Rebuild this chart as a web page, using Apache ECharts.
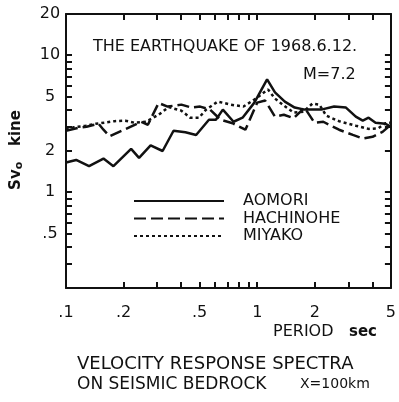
<!DOCTYPE html>
<html>
<head>
<meta charset="utf-8">
<script src="https://cdn.jsdelivr.net/npm/echarts@6/dist/echarts.min.js"></script>
<style>
html,body{margin:0;padding:0;background:#fff;}
#chart{width:399px;height:402px;}
</style>
</head>
<body>
<div id="chart"></div>
<script>
// ---- data ----
const seriesNames = ['AOMORI', 'HACHINOHE', 'MIYAKO'];

const aomoriPeriod = [0.1, 0.113, 0.132, 0.157, 0.177, 0.219, 0.241, 0.277, 0.32, 0.365, 0.421, 0.479, 0.559, 0.608, 0.661, 0.752, 0.838, 0.966, 1.126, 1.238, 1.394, 1.57, 1.767, 2.162, 2.523, 2.91, 3.276, 3.563, 3.822, 4.155, 4.68, 5.0];
const aomoriSv = [1.65, 1.72, 1.55, 1.76, 1.55, 2.07, 1.78, 2.2, 2.0, 2.81, 2.74, 2.62, 3.38, 3.38, 4.01, 3.27, 3.5, 4.51, 6.66, 5.35, 4.59, 4.15, 4.01, 4.01, 4.22, 4.15, 3.56, 3.33, 3.5, 3.22, 3.16, 3.01];

const hachinohePeriod = [0.1, 0.117, 0.128, 0.148, 0.157, 0.169, 0.206, 0.247, 0.268, 0.305, 0.34, 0.401, 0.452, 0.503, 0.566, 0.644, 0.743, 0.867, 1.0, 1.1, 1.238, 1.377, 1.551, 1.767, 1.99, 2.215, 2.677, 3.162, 3.563, 4.01, 4.52, 5.0];
const hachinoheSv = [2.81, 2.96, 3.01, 3.16, 2.86, 2.56, 2.9, 3.27, 3.11, 4.48, 4.22, 4.36, 4.15, 4.22, 4.01, 3.38, 3.19, 2.86, 4.51, 4.67, 3.56, 3.68, 3.47, 4.15, 3.22, 3.27, 2.86, 2.62, 2.47, 2.54, 2.76, 3.11];

const miyakoPeriod = [0.1, 0.11, 0.127, 0.143, 0.159, 0.179, 0.204, 0.227, 0.262, 0.305, 0.344, 0.401, 0.446, 0.496, 0.54, 0.622, 0.726, 0.847, 0.966, 1.139, 1.238, 1.377, 1.551, 1.746, 1.944, 2.113, 2.296, 2.677, 3.276, 3.822, 4.303, 4.68, 5.0];
const miyakoSv = [2.86, 2.98, 3.06, 3.16, 3.22, 3.3, 3.33, 3.22, 3.27, 3.68, 4.18, 3.94, 3.5, 3.5, 4.01, 4.59, 4.36, 4.22, 4.75, 5.62, 4.83, 4.29, 3.81, 3.87, 4.44, 4.36, 3.62, 3.3, 3.06, 2.9, 2.93, 3.19, 3.22];

const xLabelValues = [0.1, 0.2, 0.5, 1, 2, 5];
const xLabelTexts = ['.1', '.2', '.5', '1', '2', '5'];
const xTickValues = [0.2, 0.3, 0.4, 0.5, 0.6, 0.7, 0.8, 0.9, 1, 2, 3, 4];
const yLabelValues = [0.5, 1, 2, 5, 10, 20];
const yLabelTexts = ['.5', '1', '2', '5', '10', '20'];
const yTickValues = [0.3, 0.4, 0.5, 0.6, 0.7, 0.8, 0.9, 1, 2, 3, 4, 5, 6, 7, 8, 9, 10];

// ---- chart ----
const INK = '#111';
const FONT = 'DejaVu Sans';

function pairs(xs, ys) { return xs.map((x, i) => [x, ys[i]]); }
function labelFor(values, texts) {
  return function (v) {
    for (let i = 0; i < values.length; i++) {
      if (Math.abs(v - values[i]) < 1e-6 * values[i]) return texts[i];
    }
    return '';
  };
}

const axisLine = { show: true, lineStyle: { color: INK, width: 2 } };

function xAx(pos, labels) {
  return {
    type: 'log', logBase: 10, min: 0.1, max: 5, position: pos,
    axisLine: axisLine,
    axisTick: { show: true, inside: true, length: 6, customValues: xTickValues, lineStyle: { color: INK, width: 2 } },
    axisLabel: labels ? {
      show: true, customValues: xLabelValues, formatter: labelFor(xLabelValues, xLabelTexts),
      margin: 17, fontSize: 16, fontFamily: FONT, color: INK
    } : { show: false },
    splitLine: { show: false }, minorTick: { show: false }
  };
}
function yAx(pos, labels) {
  return {
    type: 'log', logBase: 10, min: 0.2, max: 20, position: pos,
    axisLine: axisLine,
    axisTick: { show: true, inside: true, length: 6, customValues: yTickValues, lineStyle: { color: INK, width: 2 } },
    axisLabel: labels ? {
      show: true, customValues: yLabelValues, formatter: labelFor(yLabelValues, yLabelTexts),
      margin: 16, align: 'center', fontSize: 16, fontFamily: FONT, color: INK
    } : { show: false },
    splitLine: { show: false }, minorTick: { show: false }
  };
}

const styles = [
  { type: 'solid' },
  { type: [12, 5] },
  { type: [3, 3] }
];
const datas = [
  pairs(aomoriPeriod, aomoriSv),
  pairs(hachinohePeriod, hachinoheSv),
  pairs(miyakoPeriod, miyakoSv)
];

const chart = echarts.init(document.getElementById('chart'), null, { renderer: 'canvas' });
chart.setOption({
  animation: false,
  backgroundColor: '#fff',
  grid: { left: 66, right: 5, top: 14, bottom: 114, containLabel: false },
  xAxis: [xAx('bottom', true), xAx('top', false)],
  yAxis: [yAx('left', true), yAx('right', false)],
  title: [
    { text: 'THE EARTHQUAKE OF 1968.6.12.', left: 93, top: 39, padding: 0,
      textStyle: { fontFamily: FONT, fontSize: 16, fontWeight: 'normal', color: INK } },
    { text: 'M=7.2', left: 303, top: 67, padding: 0,
      textStyle: { fontFamily: FONT, fontSize: 16, fontWeight: 'normal', color: INK } },
    { text: 'PERIOD', left: 273, top: 324, padding: 0,
      textStyle: { fontFamily: FONT, fontSize: 16, fontWeight: 'normal', color: INK } },
    { text: 'sec', left: 349, top: 325, padding: 0,
      textStyle: { fontFamily: FONT, fontSize: 15, fontWeight: 'bold', color: INK } },
    { text: 'VELOCITY RESPONSE SPECTRA', left: 77, top: 355, padding: 0,
      textStyle: { fontFamily: FONT, fontSize: 18, fontWeight: 'normal', color: INK } },
    { text: 'ON SEISMIC BEDROCK', left: 77, top: 376, padding: 0,
      textStyle: { fontFamily: FONT, fontSize: 17, fontWeight: 'normal', color: INK } },
    { text: 'X=100km', left: 300, top: 377, padding: 0,
      textStyle: { fontFamily: FONT, fontSize: 14, fontWeight: 'normal', color: INK } }
  ],
  legend: {
    data: seriesNames,
    orient: 'vertical', left: 133, top: 193, padding: 0,
    itemWidth: 90, itemHeight: 16, itemGap: 1.5,
    itemStyle: { opacity: 0 },
    textStyle: { fontFamily: FONT, fontSize: 16, color: INK, lineHeight: 16, padding: [0, 0, 0, 14] },
    selectedMode: false
  },
  graphic: [{
    type: 'text', x: 16, y: 150, rotation: Math.PI / 2,
    style: {
      text: 'Sv{s|o}   kine', align: 'center', verticalAlign: 'middle',
      fontFamily: FONT, fontSize: 15, fontWeight: 'bold', fill: INK,
      rich: { s: { fontFamily: FONT, fontSize: 11, fontWeight: 'bold', fill: INK, padding: [6, 0, 0, 0] } }
    }
  }],
  series: seriesNames.map((name, i) => ({
    name: name, type: 'line', xAxisIndex: 0, yAxisIndex: 0,
    data: datas[i], symbol: 'none', smooth: false,
    lineStyle: Object.assign({ color: INK, width: 2.5 }, styles[i]),
    itemStyle: { color: INK }
  }))
});
</script>
</body>
</html>
